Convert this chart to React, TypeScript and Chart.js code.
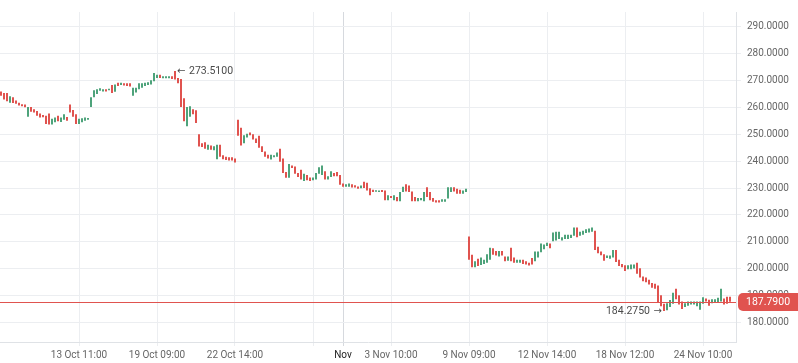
import { useEffect, useRef } from 'react';
import { Chart, registerables } from 'chart.js';

Chart.register(...registerables);

// Candle opens / closes (oldest -> newest)
const opens = [
  265.9, 265.3, 265.3, 261.7, 263.7, 262.5, 261.7, 261.1, 261.0, 256.5,
  260.1, 259.3, 258.6, 257.7, 257.1, 256.9, 257.7, 253.6, 254.4, 256.9,
  254.5, 255.4, 256.4, 261.0, 259.0, 257.4, 253.8, 254.4, 255.0, 255.4,
  260.1, 263.7, 264.9, 266.1, 265.9, 266.7, 266.3, 268.3, 265.8, 269.1,
  268.3, 268.9, 268.9, 268.9, 264.3, 265.5, 266.7, 267.3, 267.9, 268.3,
  268.5, 269.7, 270.9, 272.1, 270.8, 270.8, 270.8, 271.5, 273.51, 270.9,
  270.5, 263.4, 253.0, 256.5, 259.3, 258.9, 250.0, 246.6, 247.0, 244.2,
  245.8, 244.0, 240.7, 246.1, 242.2, 241.6, 241.4, 241.4, 241.0, 255.4,
  252.4, 246.6, 248.8, 250.6, 250.0, 248.4, 249.4, 245.5, 243.6, 242.4,
  240.6, 241.4, 241.6, 244.6, 241.0, 236.0, 233.8, 238.4, 238.0, 235.6,
  236.8, 232.6, 234.8, 233.9, 232.9, 233.2, 235.3, 234.8, 236.2, 233.2,
  234.1, 235.6, 236.0, 234.8, 231.7, 230.5, 230.5, 231.4, 231.0, 230.6,
  229.9, 232.3, 232.0, 229.9, 229.4, 228.6, 228.5, 229.3, 229.1, 225.5,
  227.0, 225.5, 226.7, 225.1, 228.5, 231.4, 230.9, 228.7, 226.7, 225.1,
  225.5, 225.1, 230.3, 228.5, 226.3, 225.5, 225.5, 224.9, 224.9, 226.1,
  228.5, 230.3, 229.7, 229.4, 227.9, 228.5, 212.0, 205.2, 200.6, 203.7,
  201.4, 201.8, 202.2, 203.4, 207.6, 206.6, 204.6, 206.6, 204.6, 203.0,
  207.8, 204.2, 202.2, 202.2, 203.4, 202.8, 202.2, 204.0, 202.8, 204.2,
  206.1, 207.3, 208.5, 209.4, 210.2, 210.5, 211.1, 210.5, 211.1, 211.1,
  211.4, 212.3, 215.3, 212.3, 212.6, 213.3, 213.5, 213.8, 214.1, 208.2,
  206.4, 205.4, 204.0, 203.7, 204.2, 207.0, 203.4, 201.8, 201.3, 199.8,
  199.8, 200.1, 202.2, 200.2, 197.1, 196.8, 195.9, 194.7, 194.4, 193.8,
  190.2, 187.0, 184.6, 185.8, 187.0, 192.6, 190.2, 187.8, 185.8, 186.3,
  186.7, 186.7, 186.1, 184.8, 187.0, 189.0, 188.5, 187.2, 187.4, 187.4,
  187.8, 189.0, 189.6, 189.6,
];

const closes = [
  264.3, 262.9, 262.2, 264.1, 261.6, 261.3, 260.7, 260.4, 260.0, 260.1,
  258.3, 258.1, 256.9, 256.2, 256.3, 253.8, 253.6, 255.7, 256.2, 254.8,
  256.2, 257.4, 255.0, 258.1, 256.5, 253.8, 255.7, 255.9, 256.2, 256.0,
  263.7, 266.3, 266.7, 267.1, 266.7, 265.9, 266.9, 265.3, 268.5, 267.9,
  269.1, 268.1, 267.9, 267.7, 267.3, 267.3, 268.9, 268.9, 269.1, 269.3,
  270.0, 272.7, 272.1, 270.9, 271.5, 271.5, 271.5, 270.5, 270.3, 268.9,
  260.1, 254.8, 260.1, 260.4, 257.4, 254.2, 245.4, 245.2, 244.6, 246.1,
  244.2, 245.5, 246.1, 241.6, 240.7, 240.4, 240.2, 240.2, 239.5, 249.4,
  245.8, 249.6, 250.2, 249.6, 248.0, 246.7, 245.0, 243.4, 241.6, 241.0,
  242.4, 242.2, 243.2, 239.8, 235.6, 233.8, 238.9, 237.4, 235.3, 234.1,
  233.2, 235.3, 232.9, 232.6, 233.9, 235.6, 237.7, 238.4, 233.2, 234.4,
  236.2, 234.4, 234.4, 231.2, 230.5, 231.4, 231.7, 230.2, 230.2, 229.7,
  230.9, 230.0, 229.1, 227.3, 228.5, 228.9, 229.1, 228.5, 225.5, 227.3,
  226.3, 227.3, 225.1, 228.5, 230.5, 228.7, 228.5, 225.1, 225.1, 226.3,
  226.3, 228.5, 226.7, 225.5, 224.9, 224.6, 224.6, 225.8, 225.8, 230.3,
  230.3, 228.7, 227.9, 227.9, 229.1, 229.7, 203.4, 200.6, 202.8, 201.0,
  204.2, 203.4, 205.4, 207.8, 205.2, 204.9, 206.6, 204.9, 202.8, 204.6,
  202.8, 202.2, 203.4, 203.4, 201.8, 201.6, 201.2, 201.6, 206.4, 206.4,
  209.4, 209.0, 209.7, 207.6, 213.5, 213.8, 213.8, 211.7, 212.6, 212.6,
  212.6, 215.3, 211.7, 213.8, 214.1, 214.7, 215.0, 215.3, 207.0, 205.8,
  205.0, 203.0, 204.9, 204.9, 207.0, 202.5, 201.0, 200.6, 199.2, 201.3,
  201.6, 201.6, 198.2, 196.8, 195.4, 195.0, 194.2, 193.0, 192.6, 187.5,
  186.1, 184.275, 187.2, 188.4, 191.1, 188.7, 186.7, 185.1, 187.2, 187.8,
  187.8, 187.8, 187.8, 187.8, 189.4, 187.8, 186.3, 188.7, 188.7, 189.2,
  192.6, 186.7, 187.0, 187.79,
];

const yTicks = [180, 190, 200, 210, 220, 230, 240, 250, 260, 270, 280, 290];
const xTickIndex = [26, 52, 78, 104, 114, 130, 156, 182, 208, 234];
const xTickText = [
  '13 Oct 11:00', '19 Oct 09:00', '22 Oct 14:00', '', 'Nov',
  '3 Nov 10:00', '9 Nov 09:00', '12 Nov 14:00', '18 Nov 12:00', '24 Nov 10:00',
];
const monthTick = 114;

const UP = '#4ea37b';
const DOWN = '#e0534f';
const FONT = 'Roboto, "Noto Sans", sans-serif';
const ARROW_FONT = '10px "DejaVu Sans", sans-serif';

export default function App() {
  const ref = useRef<HTMLCanvasElement>(null);

  useEffect(() => {
    document.body.style.margin = '0';
    const canvas = ref.current;
    if (!canvas) return;

    const data = opens.map((o, i) => ({ x: i, y: [o, closes[i]] }));
    const colors = opens.map((o, i) => (closes[i] >= o ? UP : DOWN));

    const overlay = {
      id: 'overlay',
      afterDatasetsDraw(chart: any) {
        const { ctx, chartArea } = chart;
        const ys = chart.scales.y;
        const last = closes[closes.length - 1];
        const ly = Math.round(ys.getPixelForValue(last)) + 0.5;
        ctx.save();
        ctx.strokeStyle = DOWN;
        ctx.lineWidth = 1;
        ctx.beginPath();
        ctx.moveTo(chartArea.left, ly);
        ctx.lineTo(chartArea.right, ly);
        ctx.stroke();
        ctx.restore();
      },
      afterDraw(chart: any) {
        const { ctx, chartArea } = chart;
        const xs = chart.scales.x;
        const ys = chart.scales.y;
        let hi = 0;
        let lo = 0;
        let hiV = -Infinity;
        let loV = Infinity;
        opens.forEach((o, i) => {
          const mx = Math.max(o, closes[i]);
          const mn = Math.min(o, closes[i]);
          if (mx > hiV) { hiV = mx; hi = i; }
          if (mn < loV) { loV = mn; lo = i; }
        });
        ctx.save();
        ctx.fillStyle = '#4a4a4a';
        ctx.textBaseline = 'middle';
        const hx = xs.getPixelForValue(hi);
        const hy = ys.getPixelForValue(hiV);
        ctx.textAlign = 'left';
        ctx.font = ARROW_FONT;
        ctx.fillText('\u2190', hx + 2, hy);
        ctx.font = `10.5px ${FONT}`;
        ctx.fillText(hiV.toFixed(4), hx + 14, hy);
        const lx = xs.getPixelForValue(lo);
        const lyv = ys.getPixelForValue(loV);
        ctx.textAlign = 'right';
        ctx.font = ARROW_FONT;
        ctx.fillText('\u2192', lx - 2, lyv);
        ctx.font = `10.5px ${FONT}`;
        ctx.fillText(loV.toFixed(4), lx - 14, lyv);

        const last = closes[closes.length - 1];
        const ly = Math.round(ys.getPixelForValue(last));
        const tx = chartArea.right + 2;
        const th = 18;
        ctx.fillStyle = DOWN;
        ctx.beginPath();
        if ((ctx as any).roundRect) {
          (ctx as any).roundRect(tx, ly - th / 2, chart.width - tx + 6, th, 5);
        } else {
          ctx.rect(tx, ly - th / 2, chart.width - tx + 6, th);
        }
        ctx.fill();
        ctx.fillStyle = '#ffffff';
        ctx.textAlign = 'left';
        ctx.font = `10.5px ${FONT}`;
        ctx.fillText(last.toFixed(4), tx + 8, ly + 0.5);
        ctx.restore();
      },
    };

    const chart = new Chart(canvas, {
      type: 'bar',
      data: {
        datasets: [
          {
            data: data as any,
            backgroundColor: colors,
            borderWidth: 0,
            barThickness: 2,
            inflateAmount: 0,
            minBarLength: 1.5,
          } as any,
        ],
      },
      options: {
        animation: false,
        responsive: false,
        events: [],
        layout: { padding: 0 },
        plugins: { legend: { display: false }, tooltip: { enabled: false } },
        scales: {
          x: {
            type: 'linear',
            min: -1 / 3,
            max: 245,
            offset: false,
            afterBuildTicks: (s: any) => {
              s.ticks = xTickIndex.map((v) => ({ value: v }));
            },
            afterFit: (s: any) => {
              s.height = 21;
            },
            grid: {
              color: (c: any) => (c.tick && c.tick.value === monthTick ? '#d6d9de' : '#eceef1'),
              tickLength: 4,
              offset: false,
            },
            border: { color: '#dfe2e6' },
            ticks: {
              autoSkip: false,
              maxRotation: 0,
              padding: 3,
              font: { family: FONT, size: 10 },
              color: (c: any) => (c.tick && c.tick.value === monthTick ? '#222' : '#666'),
              callback: (v: any) => {
                const k = xTickIndex.indexOf(Number(v));
                return k >= 0 ? xTickText[k] : '';
              },
            },
          },
          y: {
            position: 'right',
            min: 172.8,
            max: 295.4,
            afterBuildTicks: (s: any) => {
              s.ticks = yTicks.map((v) => ({ value: v }));
            },
            afterFit: (s: any) => {
              s.width = 62;
            },
            grid: { color: '#eceef1', tickLength: 5 },
            border: { color: '#dfe2e6' },
            ticks: {
              padding: 6,
              font: { family: FONT, size: 10 },
              color: '#666',
              callback: (v: any) => Number(v).toFixed(4),
            },
          },
        },
      },
      plugins: [overlay],
    });

    return () => chart.destroy();
  }, []);

  return (
    <div style={{ width: 798, height: 363 }}>
      <canvas ref={ref} width={798} height={363} style={{ display: 'block' }} />
    </div>
  );
}
